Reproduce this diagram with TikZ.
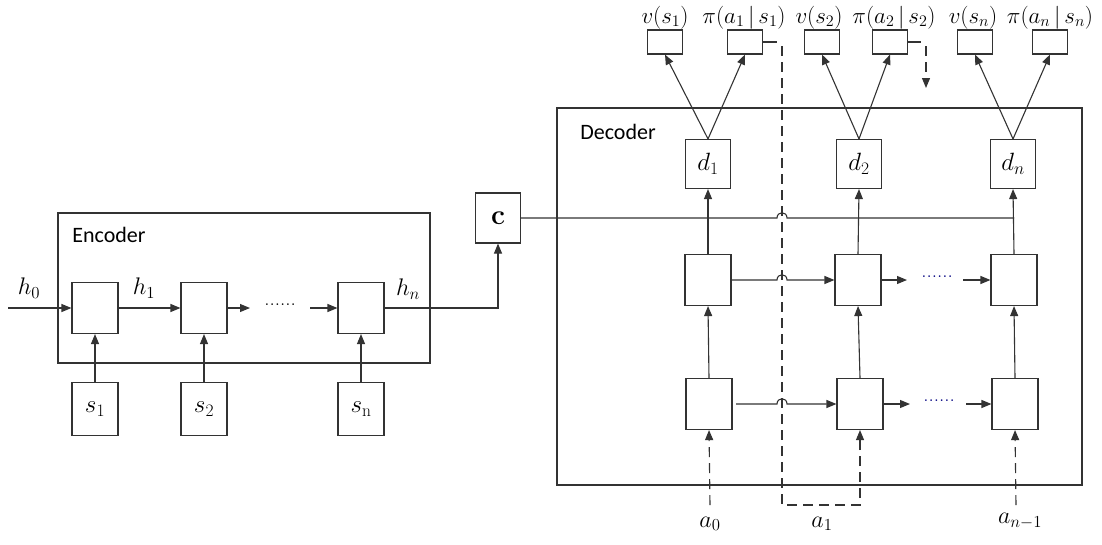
\documentclass[tikz,border=0pt]{standalone}
\usepackage{fix-cm}
\usepackage{fontspec}
\setsansfont{Carlito}
\usetikzlibrary{arrows.meta}
\tikzset{
  ln/.style={line width=1.1pt, draw=black!80},
  arr/.style={ln, -{Triangle[length=10pt,width=8pt]}},
  dsh/.style={ln, dash pattern=on 10pt off 6pt},
  cell/.style={ln, draw, fill=white, minimum width=46pt, minimum height=51pt, inner sep=0pt},
  dbox/.style={cell, minimum width=45pt, minimum height=49pt, font=\fontsize{25}{29}\selectfont},
  sbox/.style={cell, minimum height=53pt, font=\fontsize{25}{29}\selectfont},
  obox/.style={ln, draw, fill=white, minimum width=35pt, minimum height=24pt, inner sep=0pt},
  lbl/.style={inner sep=0pt, font=\fontsize{24}{28}\selectfont},
  toplbl/.style={inner sep=0pt, anchor=base, font=\fontsize{23}{27}\selectfont},
  dots/.style={inner sep=0pt, font=\fontsize{21}{25}\selectfont},
  big/.style={ln, draw},
  ttl/.style={inner sep=0pt, font=\sffamily\fontsize{22}{26}\selectfont},
}
\begin{document}
\begin{tikzpicture}[x=1pt,y=-1pt]
\useasboundingbox (0,0) rectangle (1102,544);
% containers
\draw[big] (58,213) rectangle (430,363);
\draw[big] (557,108) rectangle (1082,485);
\node[ttl] (enc) at (109,235) {Encoder};
\node[ttl] (dec) at (618,132) {Decoder};
% encoder cells
\node[cell] (e1) at (95,308) {};
\node[cell] (e2) at (204,308) {};
\node[cell] (en) at (361,308) {};
\node[sbox] (s1) at (95,409) {$s_1$};
\node[sbox] (s2) at (204,409) {$s_2$};
\node[sbox] (sn) at (361,409) {$s_{\mathrm{n}}$};
\node[cell, minimum width=45pt, minimum height=50pt, font=\bfseries\fontsize{28}{32}\selectfont] (c) at (498,218) {c};
% labels
\node[lbl] (lh0) at (29,288) {$h_0$};
\node[lbl] (lh1) at (144,288) {$h_1$};
\node[lbl] (lhn) at (408,289) {$h_n$};
\coordinate (in0) at (8,308);
\coordinate (e2o) at (250,308);
\coordinate (eni) at (310,308);
\node[dots] (edots) at (280,305) {......};
\draw[arr] (in0) -- (e1.west);
\draw[arr] (e1.east) -- (e2.west);
\draw[arr] (e2.east) -- (e2o);
\draw[arr] (eni) -- (en.west);
\draw[arr] (en.east) -| (c.south);
\draw[arr] (s1.north) -- (e1.south);
\draw[arr] (s2.north) -- (e2.south);
\draw[arr] (sn.north) -- (en.south);
% decoder
\node[dbox] (d1) at (708,164) {$d_1$};
\node[dbox] (d2) at (859,164) {$d_2$};
\node[dbox] (dn) at (1013,164) {$d_n$};
\node[cell] (u1) at (708,280) {};
\node[cell] (u2) at (858,280) {};
\node[cell] (un) at (1014,280) {};
\node[cell] (l1) at (709,404) {};
\node[cell] (l2) at (860,404) {};
\node[cell] (ln) at (1015,404) {};
% outputs
\node[obox] (v1) at (665,42) {};
\node[obox] (p1) at (745,42) {};
\node[obox] (v2) at (822,42) {};
\node[obox] (p2) at (890,42) {};
\node[obox] (vn) at (975,42) {};
\node[obox] (pn) at (1050,42) {};
\node[toplbl] (tv1) at (665,23) {$v(s_1)$};
\node[toplbl] (tp1) at (744,23) {$\pi(a_1\,|\,s_1)$};
\node[toplbl] (tv2) at (819,23) {$v(s_2)$};
\node[toplbl] (tp2) at (894,23) {$\pi(a_2\,|\,s_2)$};
\node[toplbl] (tvn) at (973,23) {$v(s_n)$};
\node[toplbl] (tpn) at (1050,23) {$\pi(a_n\,|\,s_n)$};
\foreach \d/\v/\p in {d1/v1/p1, d2/v2/p2, dn/vn/pn}{
  \draw[arr] (\d.north) -- (\v.south);
  \draw[arr] (\d.north) -- (\p.south);
}
% vertical flows
\draw[arr] (u1.north) -- (d1.south);
\draw[arr] (u2.north) -- (d2.south);
\draw[arr] (un.north) -- (dn.south);
\draw[arr] (l1.north) -- (u1.south);
\draw[arr] (l2.north) -- (u2.south);
\draw[arr] (ln.north) -- (un.south);
% context line with hop
\coordinate (cj) at (un.north |- c.east);
\draw[ln] (c.east) -- (777,218) .. controls (777,211) and (787,211) .. (787,218) -- (cj);
% upper row
\draw[arr] (u1.east) -- (777,280) .. controls (777,273) and (787,273) .. (787,280) -- (u2.west);
\coordinate (u2o) at (907,280);
\coordinate (uni) at (963,280);
\draw[arr] (u2.east) -- (u2o);
\node[dots, text=blue!50!black] (udots) at (937,277) {......};
\draw[arr] (uni) -- (un.west);
% lower row
\coordinate (l1o) at (736,404);
\draw[arr] (l1o) -- (777,404) .. controls (777,397) and (787,397) .. (787,404) -- (l2.west);
\coordinate (l2o) at (910,404);
\coordinate (lni) at (966,404);
\draw[arr] (l2.east) -- (l2o);
\node[dots, text=blue!50!black] (ldots) at (939,401) {......};
\draw[arr] (lni) -- (ln.west);
% action inputs
\node[lbl] (a0) at (710,524) {$a_0$};
\node[lbl] (a1) at (822,524) {$a_1$};
\node[lbl] (an) at (1020,521) {$a_{n-1}$};
\coordinate (a0t) at (710,505);
\coordinate (ant) at (1016,505);
\draw[dsh, -{Triangle[length=10pt,width=8pt]}] (a0t) -- (l1.south);
\draw[dsh, -{Triangle[length=10pt,width=8pt]}] (ant) -- (ln.south);
% feedback from pi1
\coordinate (f1a) at (777,42);
\coordinate (f1b) at (782,46);
\coordinate (f1c) at (782,505);
\coordinate (f1d) at (860,505);
\draw[ln] (p1.east) -- (f1a);
\draw[dsh, -{Triangle[length=10pt,width=8pt]}] (f1b) -- (f1c) -- (f1d) -- (l2.south);
% feedback from pi2
\coordinate (f2a) at (921,42);
\coordinate (f2b) at (926,46);
\coordinate (f2c) at (926,88);
\draw[ln] (p2.east) -- (f2a);
\draw[dsh, -{Triangle[length=10pt,width=8pt]}] (f2b) -- (f2c);
\end{tikzpicture}
\end{document}
